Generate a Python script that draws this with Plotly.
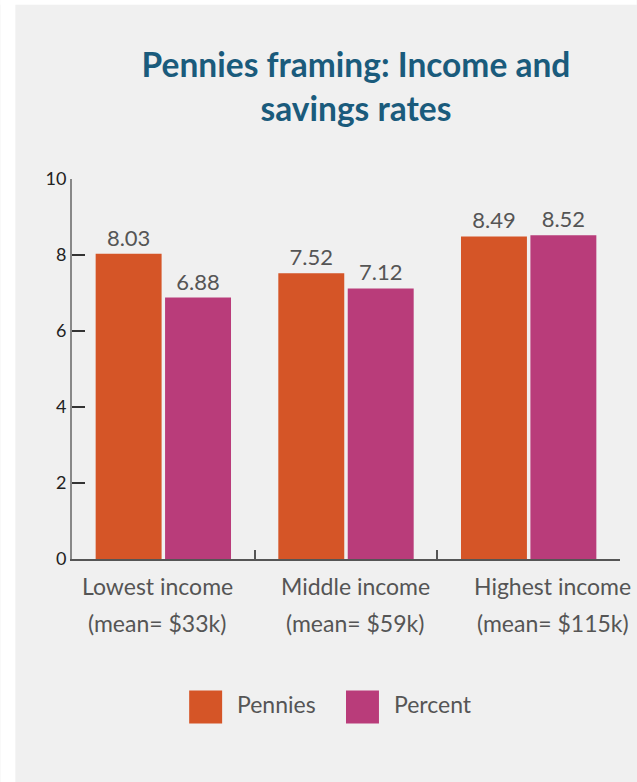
import plotly.graph_objects as go

category_names = ["Lowest income", "Middle income", "Highest income"]
category_means = ["(mean= $33k)", "(mean= $59k)", "(mean= $115k)"]
series_names = ["Pennies", "Percent"]
pennies = [8.03, 7.52, 8.49]
percent = [6.88, 7.12, 8.52]
y_ticks = [0, 2, 4, 6, 8, 10]
colors = ["#d55527", "#b93c7a"]

W, H = 637, 782
L, R, T, B = 71.7, 16.7, 179, 223.3
PW, PH = W - L - R, H - T - B
LABEL_SHIFT = [-6, 9, 24]  # horizontal offset of category labels, as in the source layout


def px_x(p):
    return (p - L) / PW


def px_y(p):
    return (H - B - p) / PH


FONT = "Lato"
fig = go.Figure()
for name, vals, col in zip(series_names, [pennies, percent], colors):
    fig.add_trace(go.Bar(
        name=name, x=category_names, y=vals, marker=dict(color=col, line=dict(width=0)),
        text=[f"{v:.2f}" for v in vals], textposition="outside",
        textfont=dict(family=FONT, size=22, color="#555555"),
        cliponaxis=False, showlegend=False,
    ))

shapes = [
    dict(type="rect", xref="paper", yref="paper", x0=px_x(0), x1=px_x(15), y0=px_y(H), y1=px_y(0),
         fillcolor="white", line=dict(width=0), layer="below"),
    dict(type="rect", xref="paper", yref="paper", x0=px_x(0), x1=px_x(W), y0=px_y(5), y1=px_y(0),
         fillcolor="white", line=dict(width=0), layer="below"),
]
annotations = []
for cat, mean, sh in zip(category_names, category_means, LABEL_SHIFT):
    annotations.append(dict(xref="x", yref="paper", x=cat, y=px_y(586), text=cat, showarrow=False,
                            xanchor="center", yanchor="middle", xshift=sh,
                            font=dict(family=FONT, size=23, color="#555555")))
    annotations.append(dict(xref="x", yref="paper", x=cat, y=px_y(623), text=mean, showarrow=False,
                            xanchor="center", yanchor="middle", xshift=sh,
                            font=dict(family=FONT, size=23, color="#555555")))

legend_x = [189, 346]
for name, col, lx in zip(series_names, colors, legend_x):
    shapes.append(dict(type="rect", xref="paper", yref="paper", x0=px_x(lx), x1=px_x(lx + 33),
                       y0=px_y(723), y1=px_y(690), fillcolor=col, line=dict(width=0)))
    annotations.append(dict(xref="paper", yref="paper", x=px_x(lx + 46), y=px_y(704), text=name,
                            showarrow=False, xanchor="left", yanchor="middle",
                            font=dict(family=FONT, size=23, color="#555555")))

fig.update_layout(
    width=W, height=H,
    margin=dict(l=L, r=R, t=T, b=B, pad=0, autoexpand=False),
    paper_bgcolor="#f0f0f0", plot_bgcolor="#f0f0f0",
    title=dict(text="Pennies framing: Income and<br>savings rates", x=356 / W, xanchor="center",
               xref="container", yref="container", y=1 - 77 / H, yanchor="top",
               font=dict(family=FONT, size=33.5, color="#1a5b7c", weight="bold")),
    barmode="group", bargap=0.24, bargroupgap=0.05,
    xaxis=dict(type="category", range=[-0.5, len(category_names) - 0.5], autorange=False,
               showgrid=False, tickson="boundaries", ticks="inside", ticklen=9,
               tickcolor="#555555", tickwidth=1.5, showline=True, linecolor="#555555", linewidth=1.5,
               showticklabels=False, zeroline=False),
    yaxis=dict(range=[0, 10], tickvals=y_ticks, showgrid=False, zeroline=False, ticks="inside",
               ticklen=13, tickcolor="#333333", tickwidth=1.5, showline=True, linecolor="#888888",
               linewidth=2, tickfont=dict(family=FONT, size=18, color="#222222")),
    shapes=shapes, annotations=annotations,
    font=dict(family=FONT),
)

fig.write_html("out.html", config={"displayModeBar": False},
               post_script="document.body.style.margin='0';document.body.style.padding='0';")
